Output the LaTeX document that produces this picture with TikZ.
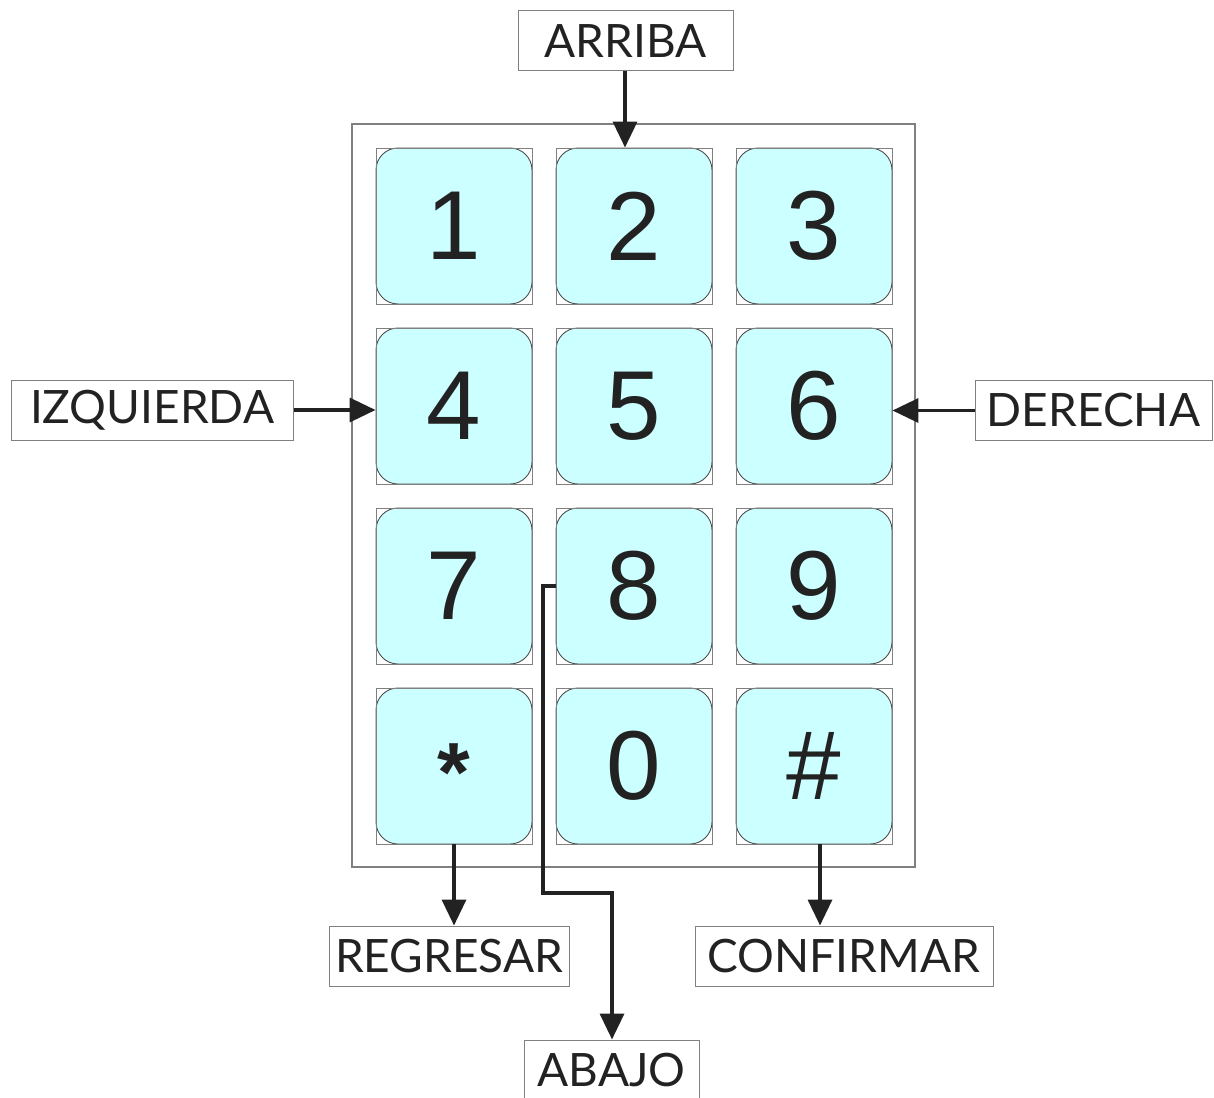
\documentclass[tikz,border=0pt]{standalone}
\usepackage{fontspec}
\setmainfont{Lato}
\newfontfamily\digitfont{Liberation Sans}
\usetikzlibrary{arrows.meta}
\definecolor{keycyan}{HTML}{CCFFFF}
\definecolor{framegray}{HTML}{808080}
\definecolor{inkdark}{HTML}{222222}
\begin{document}
\begin{tikzpicture}[x=1pt,y=-1pt,
  keysq/.style={draw=framegray,line width=0.9pt,minimum size=156pt,inner sep=0pt,font=\digitfont\fontsize{98}{98}\selectfont,text=inkdark},
  keybg/.style={fill=keycyan,draw=inkdark!80,line width=0.9pt,rounded corners=22pt},
  lbl/.style={draw=framegray,line width=1pt,minimum height=60pt,inner sep=0pt,font=\fontsize{46}{46}\selectfont,text=inkdark},
  arr/.style={draw=inkdark,line width=3.5pt,-{Triangle[length=26pt,width=24pt]}}
]
\useasboundingbox (0,0) rectangle (1214,1097);
\node[draw=framegray,line width=1.3pt,minimum width=563pt,minimum height=743pt,inner sep=0pt] (frame) at (633.5,495.5) {};
\foreach \lab/\x/\y/\n in {1/454/226/k1,2/634/226/k2,3/814/226/k3,4/454/406/k4,5/634/406/k5,6/814/406/k6,7/454/586/k7,8/634/586/k8,9/814/586/k9,{\raisebox{-35pt}[0pt][0pt]{\fontsize{84}{84}\selectfont\bfseries *}}/454/766/kstar,0/634/766/k0,{\#}/814/766/khash}{
  \draw[keybg] (\x-78,\y-78) rectangle (\x+78,\y+78);
  \node[keysq] (\n) at (\x,\y) {\lab};
}
\node[lbl,minimum width=215pt] (arriba) at (625.5,41) {ARRIBA};
\node[lbl,minimum width=282pt] (izq) at (152,410) {IZQUIERDA};
\node[lbl,minimum width=237pt] (der) at (1093.5,410.5) {DERECHA};
\node[lbl,minimum width=240pt] (reg) at (449,956) {REGRESAR};
\node[lbl,minimum width=298pt] (conf) at (844,956) {CONFIRMAR};
\node[lbl,minimum width=175pt] (abajo) at (611.5,1070) {ABAJO};
\coordinate (bend1) at (543,586);
\coordinate (bend2) at (612,893);
\draw[arr] (arriba.south -| 625,0) -- (k2.north -| 625,0);
\draw[arr] (izq.east) -- (izq.east -| k4.west);
\draw[arr] (der.west) -- (der.west -| k6.east);
\draw[arr] (kstar.south) -- (reg.north -| kstar.south);
\draw[arr] (khash.south -| 820,0) -- (conf.north -| 820,0);
\draw[arr] (k8.west) -- (bend1) |- (bend2) -- (abajo.north -| bend2);
\end{tikzpicture}
\end{document}
